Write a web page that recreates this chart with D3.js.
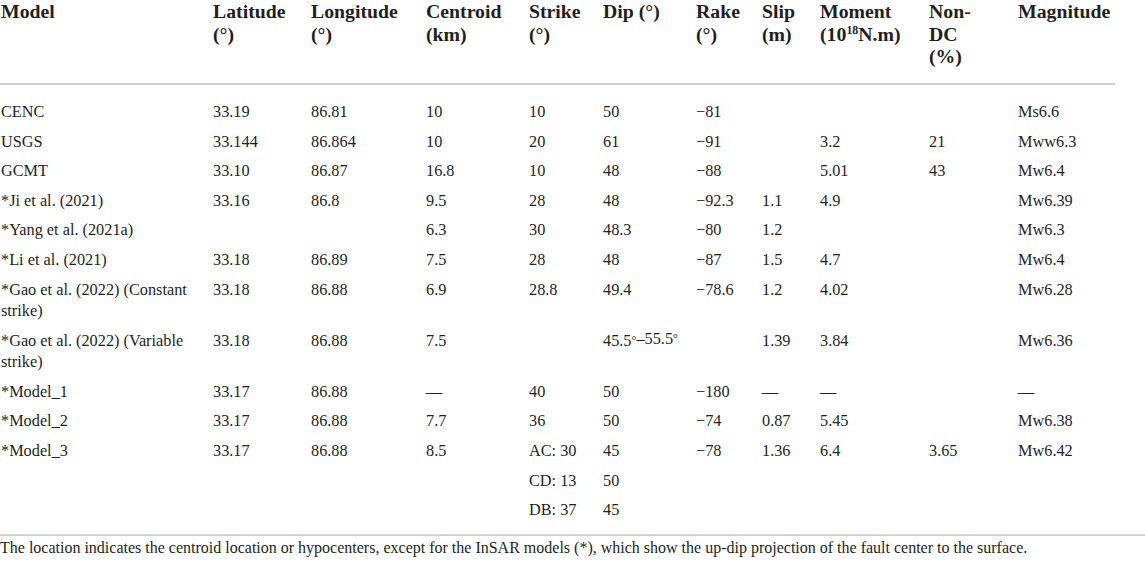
<!DOCTYPE html>
<html>
<head>
<meta charset="utf-8">
<script src="https://cdn.jsdelivr.net/npm/d3@7"></script>
<style>
  body { margin: 0; background: #fff; }
  svg text { font-family: "Liberation Serif", "Times New Roman", serif; fill: #231f20; }
</style>
</head>
<body>
<div id="table"></div>
<script>
// table content
const headers = [
  ['Model'], ['Latitude', '(°)'], ['Longitude', '(°)'], ['Centroid', '(km)'],
  ['Strike', '(°)'], ['Dip (°)'], ['Rake', '(°)'], ['Slip', '(m)'],
  ['Moment', '(10^18N.m)'], ['Non-', 'DC', '(%)'], ['Magnitude']
];
const models = ['CENC', 'USGS', 'GCMT', '*Ji et al. (2021)', '*Yang et al. (2021a)',
  '*Li et al. (2021)', '*Gao et al. (2022) (Constant strike)',
  '*Gao et al. (2022) (Variable strike)', '*Model_1', '*Model_2', '*Model_3'];
const latitude = ['33.19', '33.144', '33.10', '33.16', '', '33.18', '33.18', '33.18', '33.17', '33.17', '33.17'];
const longitude = ['86.81', '86.864', '86.87', '86.8', '', '86.89', '86.88', '86.88', '86.88', '86.88', '86.88'];
const centroid = ['10', '10', '16.8', '9.5', '6.3', '7.5', '6.9', '7.5', '—', '7.7', '8.5'];
const strike = ['10', '20', '10', '28', '30', '28', '28.8', '', '40', '36', ['AC: 30', 'CD: 13', 'DB: 37']];
const dip = ['50', '61', '48', '48', '48.3', '48', '49.4', '45.5°–55.5°', '50', '50', ['45', '50', '45']];
const rake = ['−81', '−91', '−88', '−92.3', '−80', '−87', '−78.6', '', '−180', '−74', '−78'];
const slip = ['', '', '', '1.1', '1.2', '1.5', '1.2', '1.39', '—', '0.87', '1.36'];
const moment = ['', '3.2', '5.01', '4.9', '', '4.7', '4.02', '3.84', '—', '5.45', '6.4'];
const nonDC = ['', '21', '43', '', '', '', '', '', '', '', '3.65'];
const magnitude = ['Ms6.6', 'Mww6.3', 'Mw6.4', 'Mw6.39', 'Mw6.3', 'Mw6.4', 'Mw6.28', 'Mw6.36', '—', 'Mw6.38', 'Mw6.42'];
const footnote = 'The location indicates the centroid location or hypocenters, except for the InSAR models (*), which show the up-dip projection of the fault center to the surface.';

const columns = [models, latitude, longitude, centroid, strike, dip, rake, slip, moment, nonDC, magnitude];

const width = 1145;
const height = 561;
const bodySize = 16.3;
const headSize = 19.8;
const rowPitch = 29.6;
const wrapPitch = 21.5;

const x = d3.scaleOrdinal()
  .domain(d3.range(columns.length))
  .range([1, 213, 311, 426, 529, 603, 696, 762, 820, 929, 1018]);

const svg = d3.select('#table').append('svg')
  .attr('width', width)
  .attr('height', height);

// header
const head = svg.append('g').attr('class', 'head');
headers.forEach((lines, c) => {
  lines.forEach((line, k) => {
    const t = head.append('text')
      .attr('x', x(c))
      .attr('y', 17.8 + k * 22.7)
      .attr('font-size', headSize)
      .attr('font-weight', 'bold');
    const parts = line.split('^');
    if (parts.length === 1) {
      t.text(line);
    } else {
      // superscript exponent, e.g. 10^18
      const exp = parts[1].match(/^\d+/)[0];
      t.append('tspan').text(parts[0]);
      t.append('tspan').attr('font-size', headSize * 0.6).attr('dy', -7).text(exp);
      t.append('tspan').attr('dy', 7).text(parts[1].slice(exp.length));
    }
  });
});

svg.append('line')
  .attr('x1', 0).attr('x2', 1115)
  .attr('y1', 84).attr('y2', 84)
  .attr('stroke', '#bdbdbd').attr('stroke-width', 1.3);

// measure text to wrap the model names
const probe = svg.append('text').attr('font-size', bodySize).attr('visibility', 'hidden');
function wrap(str, maxWidth) {
  const words = str.split(' ');
  const lines = [];
  let cur = '';
  words.forEach(w => {
    const test = cur ? cur + ' ' + w : w;
    probe.text(test);
    if (cur && probe.node().getComputedTextLength() > maxWidth) {
      lines.push(cur);
      cur = w;
    } else {
      cur = test;
    }
  });
  lines.push(cur);
  return lines;
}

const body = svg.append('g').attr('class', 'body');
let y = 117;
models.forEach((m, r) => {
  const nameLines = wrap(m, x(1) - x(0) - 16);
  nameLines.forEach((line, k) => {
    body.append('text')
      .attr('x', x(0))
      .attr('y', y + k * wrapPitch)
      .attr('font-size', bodySize)
      .text(line);
  });
  let stack = 1;
  columns.slice(1).forEach((col, i) => {
    const v = col[r];
    const vals = Array.isArray(v) ? v : [v];
    stack = Math.max(stack, vals.length);
    vals.forEach((val, k) => {
      if (!val) return;
      const t = body.append('text')
        .attr('x', x(i + 1))
        .attr('y', y + k * rowPitch)
        .attr('font-size', bodySize);
      // small raised degree marks
      val.split(/(°)/).forEach(p => {
        if (p === '°') {
          t.append('tspan').attr('font-size', bodySize * 0.75).attr('dy', -2).text('°');
          t.append('tspan').attr('dy', 2).text('');
        } else if (p) {
          t.append('tspan').text(p);
        }
      });
    });
  });
  y += rowPitch * stack + wrapPitch * (nameLines.length - 1);
});
probe.remove();

const ruleY = y - rowPitch + 20;
svg.append('line')
  .attr('x1', 0).attr('x2', width)
  .attr('y1', ruleY).attr('y2', ruleY)
  .attr('stroke', '#bdbdbd').attr('stroke-width', 1.3);

svg.append('text')
  .attr('x', 0)
  .attr('y', ruleY + 18)
  .attr('font-size', 16)
  .text(footnote);
</script>
</body>
</html>
